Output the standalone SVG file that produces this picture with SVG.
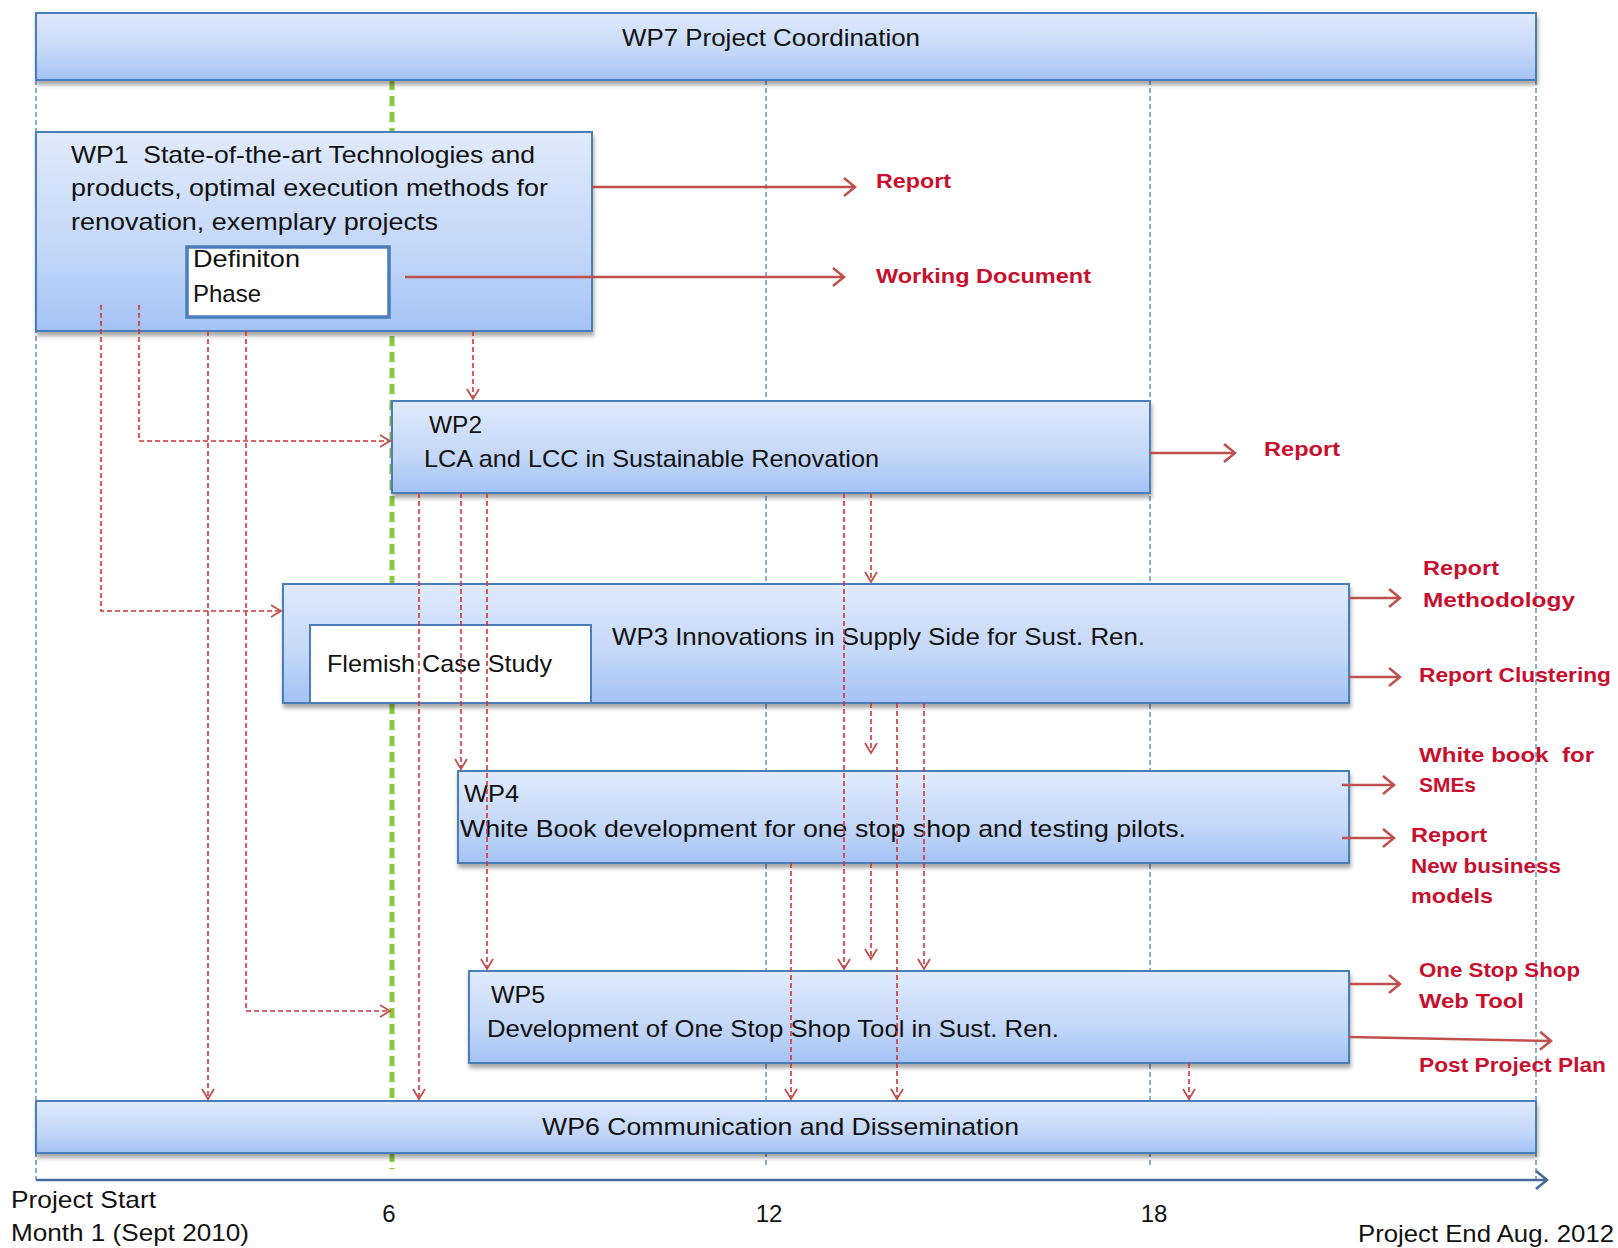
<svg xmlns="http://www.w3.org/2000/svg" width="1618" height="1248" viewBox="0 0 1618 1248">
<defs>
<linearGradient id="g" x1="0" y1="0" x2="0" y2="1">
<stop offset="0" stop-color="#e0eafb"/>
<stop offset="0.6" stop-color="#c3d7f8"/>
<stop offset="1" stop-color="#a3c2f4"/>
</linearGradient>
<filter id="sh" x="-5%" y="-10%" width="110%" height="130%">
<feDropShadow dx="1" dy="4" stdDeviation="2" flood-color="#000" flood-opacity="0.35"/>
</filter>
<marker id="ad" markerUnits="userSpaceOnUse" markerWidth="14" markerHeight="16" viewBox="0 0 14 16" refX="12" refY="8" orient="auto">
<path d="M2,2 L12,8 L2,14" fill="none" stroke="#c0504d" stroke-width="1.8"/>
</marker>
<marker id="as" markerUnits="userSpaceOnUse" markerWidth="16" markerHeight="22" viewBox="0 0 16 22" refX="14" refY="11" orient="auto">
<path d="M3,2 L14,11 L3,20" fill="none" stroke="#c0504d" stroke-width="2.5"/>
</marker>
<marker id="ax" markerUnits="userSpaceOnUse" markerWidth="16" markerHeight="22" viewBox="0 0 16 22" refX="14" refY="11" orient="auto">
<path d="M3,2 L14,11 L3,20" fill="none" stroke="#46699c" stroke-width="2.5"/>
</marker>
</defs>
<style>
.box{fill:url(#g);stroke:#4a7ebb;stroke-width:2;filter:url(#sh)}
.t{font-family:"Liberation Sans",Arial,sans-serif;font-size:24px;fill:#111}
.r{font-family:"Liberation Sans",Arial,sans-serif;font-size:21px;font-weight:bold;fill:#c8102e}
.grid{stroke:#4f81bd;stroke-width:1.3;stroke-dasharray:5,3;fill:none}
.dc{fill:none;stroke:#d0343a;stroke-width:1.6;stroke-dasharray:5,3;marker-end:url(#ad)}
.oc{fill:none;stroke:#c0504d;stroke-width:2.5;marker-end:url(#as)}
</style>
<rect width="1618" height="1248" fill="#fff"/>
<g id="grid">
<line class="grid" x1="36" y1="80" x2="36" y2="1180"/>
<line class="grid" x1="766" y1="80" x2="766" y2="1168"/>
<line class="grid" x1="1150" y1="80" x2="1150" y2="1168"/>
<line class="grid" x1="1536" y1="80" x2="1536" y2="1180"/>
<line x1="392" y1="80" x2="392" y2="1169" stroke="#8dc63f" stroke-width="5" stroke-dasharray="10,6"/>
</g>
<g id="wp7">
<rect class="box" x="36" y="13" width="1500" height="67"/>
<text class="t" x="622" y="46" textLength="298" lengthAdjust="spacingAndGlyphs">WP7 Project Coordination</text>
</g>
<g id="wp1">
<rect class="box" x="36" y="132" width="556" height="199"/>
<text class="t" x="71" y="163" textLength="464" lengthAdjust="spacingAndGlyphs" xml:space="preserve">WP1  State-of-the-art Technologies and</text>
<text class="t" x="71" y="196" textLength="477" lengthAdjust="spacingAndGlyphs">products, optimal execution methods for</text>
<text class="t" x="71" y="230" textLength="367" lengthAdjust="spacingAndGlyphs">renovation, exemplary projects</text>
</g>
<g id="definition">
<rect x="187" y="247" width="202" height="70" fill="#fff" stroke="#4a7ebb" stroke-width="3.5"/>
<text class="t" x="193" y="267" font-size="21" textLength="107" lengthAdjust="spacingAndGlyphs">Definiton</text>
<text class="t" x="193" y="302" font-size="21" textLength="68" lengthAdjust="spacingAndGlyphs">Phase</text>
</g>
<g id="wp2">
<rect class="box" x="392" y="401" width="758" height="92"/>
<text class="t" x="429" y="433" textLength="53" lengthAdjust="spacingAndGlyphs">WP2</text>
<text class="t" x="424" y="467" textLength="455" lengthAdjust="spacingAndGlyphs">LCA and LCC in Sustainable Renovation</text>
</g>
<g id="wp3">
<rect class="box" x="283" y="584" width="1066" height="119"/>
<rect x="310" y="625" width="281" height="78" fill="#fff" stroke="#4a7ebb" stroke-width="2"/>
<text class="t" x="327" y="672" textLength="225" lengthAdjust="spacingAndGlyphs">Flemish Case Study</text>
<text class="t" x="612" y="645" textLength="533" lengthAdjust="spacingAndGlyphs">WP3 Innovations in Supply Side for Sust. Ren.</text>
</g>
<g id="wp4">
<rect class="box" x="458" y="771" width="891" height="92"/>
<text class="t" x="464" y="802" textLength="55" lengthAdjust="spacingAndGlyphs">WP4</text>
<text class="t" x="460" y="837" textLength="726" lengthAdjust="spacingAndGlyphs">White Book development for one stop shop and testing pilots.</text>
</g>
<g id="wp5">
<rect class="box" x="469" y="971" width="880" height="92"/>
<text class="t" x="491" y="1003" textLength="54" lengthAdjust="spacingAndGlyphs">WP5</text>
<text class="t" x="487" y="1037" textLength="572" lengthAdjust="spacingAndGlyphs">Development of One Stop Shop Tool in Sust. Ren.</text>
</g>
<g id="wp6">
<rect class="box" x="36" y="1101" width="1500" height="52"/>
<text class="t" x="542" y="1135" textLength="477" lengthAdjust="spacingAndGlyphs">WP6 Communication and Dissemination</text>
</g>
<g id="connectors">
<path class="dc" d="M101,305 V611 H281"/>
<path class="dc" d="M139,305 V441 H390"/>
<path class="dc" d="M208,331 V1099"/>
<path class="dc" d="M246,331 V1011 H390"/>
<path class="dc" d="M473,331 V399"/>
<path class="dc" d="M419,493 V1099"/>
<path class="dc" d="M461,493 V769"/>
<path class="dc" d="M487,493 V969"/>
<path class="dc" d="M844,493 V969"/>
<path class="dc" d="M871,493 V582"/>
<path class="dc" d="M871,703 V753"/>
<path class="dc" d="M871,863 V959"/>
<path class="dc" d="M897,703 V1099"/>
<path class="dc" d="M924,703 V969"/>
<path class="dc" d="M791,863 V1099"/>
<path class="dc" d="M1189,1063 V1099"/>
<path class="oc" d="M592,187 H855"/>
<path class="oc" d="M405,277 H844"/>
<path class="oc" d="M1150,453 H1235"/>
<path class="oc" d="M1349,598 H1400"/>
<path class="oc" d="M1349,677 H1400"/>
<path class="oc" d="M1342,785 H1394"/>
<path class="oc" d="M1342,838 H1394"/>
<path class="oc" d="M1349,984 H1400"/>
<path class="oc" d="M1349,1037 L1551,1041"/>
<path d="M36,1180 H1547" fill="none" stroke="#46699c" stroke-width="2.5" marker-end="url(#ax)"/>
</g>
<g id="outputs">
<text class="r" x="876" y="188" textLength="75" lengthAdjust="spacingAndGlyphs">Report</text>
<text class="r" x="876" y="283" textLength="215" lengthAdjust="spacingAndGlyphs">Working Document</text>
<text class="r" x="1264" y="456" textLength="76" lengthAdjust="spacingAndGlyphs">Report</text>
<text class="r" x="1423" y="575" textLength="76" lengthAdjust="spacingAndGlyphs">Report</text>
<text class="r" x="1423" y="607" textLength="152" lengthAdjust="spacingAndGlyphs">Methodology</text>
<text class="r" x="1419" y="682" textLength="192" lengthAdjust="spacingAndGlyphs">Report Clustering</text>
<text class="r" x="1419" y="762" textLength="175" lengthAdjust="spacingAndGlyphs" xml:space="preserve">White book  for</text>
<text class="r" x="1419" y="792" textLength="57" lengthAdjust="spacingAndGlyphs">SMEs</text>
<text class="r" x="1411" y="842" textLength="76" lengthAdjust="spacingAndGlyphs">Report</text>
<text class="r" x="1411" y="873" textLength="150" lengthAdjust="spacingAndGlyphs">New business</text>
<text class="r" x="1411" y="903" textLength="82" lengthAdjust="spacingAndGlyphs">models</text>
<text class="r" x="1419" y="977" textLength="161" lengthAdjust="spacingAndGlyphs">One Stop Shop</text>
<text class="r" x="1419" y="1008" textLength="105" lengthAdjust="spacingAndGlyphs">Web Tool</text>
<text class="r" x="1419" y="1072" textLength="187" lengthAdjust="spacingAndGlyphs">Post Project Plan</text>
</g>
<g id="axis-labels">
<text class="t" x="11" y="1208" textLength="145" lengthAdjust="spacingAndGlyphs">Project Start</text>
<text class="t" x="11" y="1241" textLength="238" lengthAdjust="spacingAndGlyphs">Month 1 (Sept 2010)</text>
<text class="t" x="389" y="1222" text-anchor="middle" font-size="22">6</text>
<text class="t" x="769" y="1222" text-anchor="middle" font-size="22">12</text>
<text class="t" x="1154" y="1222" text-anchor="middle" font-size="22">18</text>
<text class="t" x="1358" y="1242" textLength="256" lengthAdjust="spacingAndGlyphs">Project End Aug. 2012</text>
</g>
</svg>
